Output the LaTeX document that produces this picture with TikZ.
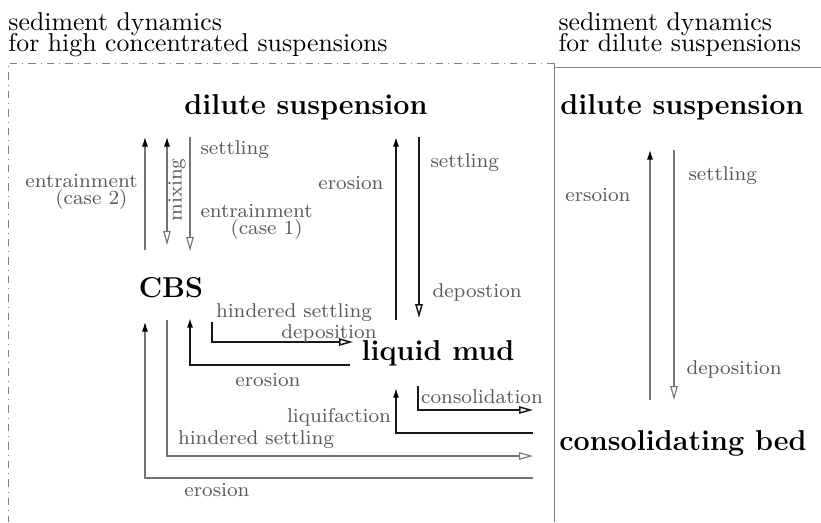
\documentclass[tikz,border=0pt]{standalone}
\usetikzlibrary{arrows.meta}
\begin{document}
\begin{tikzpicture}[x=0.4pt,y=-0.4pt,
  big/.style={font=\fontsize{11.5}{13}\selectfont\bfseries, inner sep=0pt},
  ttl/.style={font=\fontsize{10.3}{12}\selectfont, align=left, inner sep=0pt},
  lab/.style={font=\fontsize{8}{6.6}\selectfont, text=black!65, inner sep=0pt},
  gline/.style={draw=black!55, line width=0.45pt},
  dline/.style={draw=black!90, line width=0.6pt},
  fhead/.tip={Latex[length=3.8pt,width=2.4pt,color=black]},
  ohead/.tip={Triangle[open,length=5.6pt,width=3pt]},
  box/.style={draw=black!50, line width=0.4pt}
]
\useasboundingbox (0,0) rectangle (821,522);

% titles
\node[ttl, anchor=north west] (tl) at (8,12) {sediment dynamics\\[-3.6pt]for high concentrated suspensions};
\node[ttl, anchor=north west] (tr) at (558,12) {sediment dynamics\\[-3.6pt]for dilute suspensions};

% frames
\coordinate (f1) at (554,63);
\coordinate (f2) at (8,63);
\coordinate (f3) at (8,522);
\coordinate (f4) at (554,522);
\coordinate (f5) at (821,67);
\draw[box, dash dot] (f1) -- (f2) -- (f3);
\draw[box] (f1) -- (f4);
\draw[box] (f1 |- f5) -- (f5);

% main nodes
\node[big] (ds1) at (306,107) {dilute suspension};
\node[big] (ds2) at (682,107) {dilute suspension};
\node[big] (cbs) at (171,288) {CBS};
\node[big] (lm) at (438,353) {liquid mud};
\node[big] (cb) at (683,443) {consolidating bed};

% upper-left arrows
\coordinate (a1b) at (145,250); \coordinate (a1t) at (145,137);
\coordinate (a2t) at (167,137); \coordinate (a2b) at (167,245);
\coordinate (a3t) at (190,137); \coordinate (a3b) at (190,251);
\draw[gline, -fhead] (a1b) -- (a1t);
\draw[gline, fhead-ohead] (a2t) -- (a2b);
\draw[gline, -ohead] (a3t) -- (a3b);
\node[lab, align=center, anchor=east] (l1) at (138,192) {entrainment\\\hspace*{8pt}(case 2)};
\node[lab, rotate=90] (l2) at (177,190) {mixing};
\node[lab, anchor=west] (l3) at (200,150) {settling};
\node[lab, align=center, anchor=west] (l4) at (200,222) {entrainment\\\hspace*{8pt}(case 1)};

% middle arrows
\coordinate (m1b) at (396,320); \coordinate (m1t) at (396,137);
\coordinate (m2t) at (419,137); \coordinate (m2b) at (419,318);
\draw[dline, -fhead] (m1b) -- (m1t);
\draw[dline, -ohead] (m2t) -- (m2b);
\node[lab, anchor=east] (l5) at (384,183) {erosion};
\node[lab, anchor=west] (l6) at (430,163) {settling};
\node[lab, anchor=west] (l7) at (432,292) {depostion};

% lower connections
\coordinate (e1s) at (533,478); \coordinate (e1c) at (145,478); \coordinate (e1t) at (145,322);
\draw[gline, -fhead] (e1s) -- (e1c) -- (e1t);
\node[lab] (l8) at (217,490) {erosion};

\coordinate (h1s) at (167,320); \coordinate (h1c) at (167,456); \coordinate (h1t) at (533,456);
\draw[gline, -ohead] (h1s) -- (h1c) -- (h1t);
\node[lab] (l9) at (256,440) {hindered settling};

\coordinate (e2s) at (350,365); \coordinate (e2c) at (190,365); \coordinate (e2t) at (190,318);
\draw[dline, -fhead] (e2s) -- (e2c) -- (e2t);
\node[lab] (l10) at (268,380) {erosion};

\coordinate (h2s) at (212,322); \coordinate (h2c) at (212,342); \coordinate (h2t) at (353,342);
\draw[dline, -ohead] (h2s) -- (h2c) -- (h2t);
\node[lab] (l11) at (294,313) {hindered settling};
\node[lab] (l12) at (329,333) {deposition};

\coordinate (q1s) at (533,433); \coordinate (q1c) at (396,433); \coordinate (q1t) at (396,388);
\draw[dline, -fhead] (q1s) -- (q1c) -- (q1t);
\node[lab] (l13) at (339,417) {liquifaction};

\coordinate (c1s) at (418,386); \coordinate (c1c) at (418,410); \coordinate (c1t) at (533,410);
\draw[dline, -ohead] (c1s) -- (c1c) -- (c1t);
\node[lab] (l14) at (482,397) {consolidation};

% right panel
\coordinate (r1b) at (650,400); \coordinate (r1t) at (650,150);
\coordinate (r2t) at (674,150); \coordinate (r2b) at (674,400);
\draw[gline, -fhead] (r1b) -- (r1t);
\draw[gline, -ohead] (r2t) -- (r2b);
\node[lab] (l15) at (598,195) {ersoion};
\node[lab, anchor=west] (l16) at (688,176) {settling};
\node[lab, anchor=west] (l17) at (686,369) {deposition};
\end{tikzpicture}
\end{document}
